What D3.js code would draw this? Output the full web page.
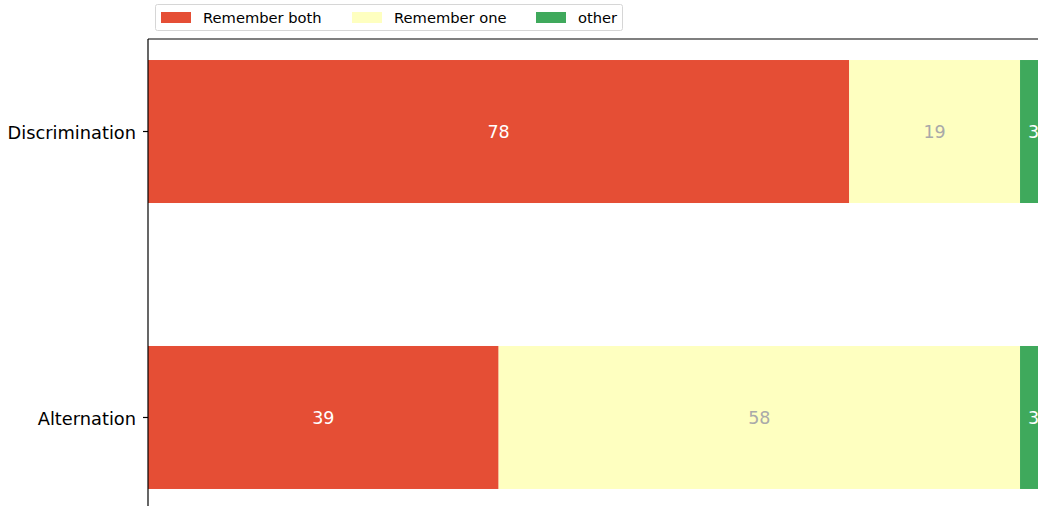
<!DOCTYPE html>
<html>
<head>
<meta charset="utf-8">
<script src="https://cdn.jsdelivr.net/npm/d3@7"></script>
<style>
  html, body { margin: 0; padding: 0; background: #fff; overflow: hidden; }
  text { font-family: "DejaVu Sans", sans-serif; }
</style>
</head>
<body>
<div id="viz"></div>
<script>
// ── DATA ─────────────────────────────────────────────────────────────────────
const categories = ["Discrimination", "Alternation"];
const seriesNames = ["Remember both", "Remember one", "other"];
const rememberBoth = [78, 39];
const rememberOne = [19, 58];
const other = [3, 3];
const seriesColors = ["#e54e35", "#feffc0", "#3fa95c"];
const labelColors = ["#ffffff", "#a9a9a9", "#ffffff"];

// ── SETTINGS ────────────────────────────────────────────────────────────────
const width = 1038, height = 506;
const svg = d3.select("#viz").append("svg")
    .attr("width", width)
    .attr("height", height);

const x = d3.scaleLinear().domain([0, 100]).range([148, 1047]);
const y = d3.scaleBand().domain(categories).range([39, 510])
    .paddingInner(0.5).paddingOuter(0.0735);

// stack the series
const rows = categories.map((c, i) => ({
  cat: c, "Remember both": rememberBoth[i], "Remember one": rememberOne[i], other: other[i]
}));
const stacked = d3.stack().keys(seriesNames)(rows);

const plot = svg.append("g");
stacked.forEach((layer, si) => {
  const g = plot.append("g");
  g.selectAll("rect")
    .data(layer)
    .join("rect")
      .attr("x", d => x(d[0]))
      .attr("y", d => y(d.data.cat))
      .attr("width", d => x(d[1]) - x(d[0]))
      .attr("height", y.bandwidth())
      .attr("fill", seriesColors[si]);
  g.selectAll("text")
    .data(layer)
    .join("text")
      .attr("x", d => (x(d[0]) + x(d[1])) / 2)
      .attr("y", d => y(d.data.cat) + y.bandwidth() / 2)
      .attr("dy", "0.35em")
      .attr("text-anchor", "middle")
      .attr("font-size", "17.5px")
      .attr("fill", labelColors[si])
      .text(d => d[1] - d[0]);
});

// ── AXES ────────────────────────────────────────────────────────────────────
const yAxis = svg.append("g")
    .attr("transform", `translate(${x(0)},0)`)
    .call(d3.axisLeft(y).tickSize(5).tickPadding(7));
yAxis.select(".domain").remove();
yAxis.selectAll("text").attr("font-size", "17.8px").attr("fill", "#000")
    .attr("dy", "0.4em")
    .style("font-family", "DejaVu Sans");
yAxis.selectAll("line").attr("stroke", "#000").attr("stroke-width", 1.2);

// spines
svg.append("line").attr("x1", x(0)).attr("x2", x(0)).attr("y1", 39).attr("y2", 510)
    .attr("stroke", "#000").attr("stroke-width", 1.2);
svg.append("line").attr("x1", x(0)).attr("x2", x(100)).attr("y1", 39).attr("y2", 39)
    .attr("stroke", "#000").attr("stroke-width", 1.2);

// ── LEGEND ──────────────────────────────────────────────────────────────────
const legend = svg.append("g");
legend.append("rect")
    .attr("x", 155.5).attr("y", 4.5).attr("width", 467).attr("height", 26)
    .attr("rx", 2).attr("fill", "#fff").attr("stroke", "#d6d6d6");
const legendX = [161, 352, 536];
seriesNames.forEach((name, i) => {
  legend.append("rect")
      .attr("x", legendX[i]).attr("y", 12).attr("width", 30).attr("height", 11)
      .attr("fill", seriesColors[i]);
  legend.append("text")
      .attr("x", legendX[i] + 42).attr("y", 17.5).attr("dy", "0.35em")
      .attr("font-size", "14.7px").attr("fill", "#000")
      .text(name);
});
</script>
</body>
</html>
